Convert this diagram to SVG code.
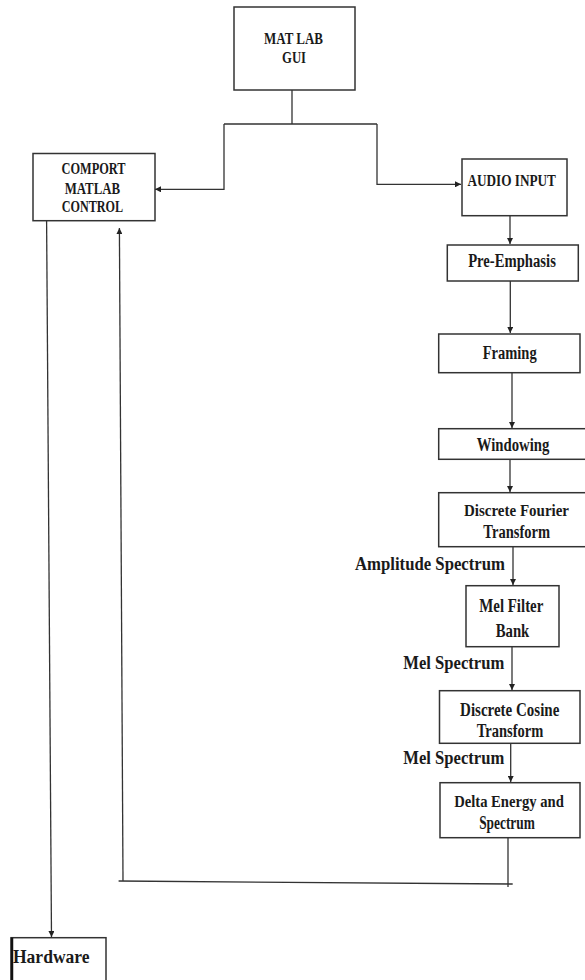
<svg xmlns="http://www.w3.org/2000/svg" width="585" height="980" viewBox="0 0 585 980">
<defs>
<marker id="ah" viewBox="0 0 10 10" refX="10" refY="5" markerWidth="6" markerHeight="6" markerUnits="userSpaceOnUse" orient="auto">
<path d="M0,0 L10,5 L0,10 z" fill="#222"/>
</marker>
</defs>
<style>
.n{fill:#fff;stroke:#333;stroke-width:1.5}
text{font-family:"Liberation Serif","Times New Roman",serif;font-weight:bold;fill:#1a1a1a}
.c{font-size:16px;text-anchor:middle}
.g{font-size:17px;text-anchor:middle}
.l{font-size:18px;text-anchor:middle}
.s{font-size:16px;text-anchor:middle}
.e{font-size:18px}
.ln{fill:none;stroke:#333;stroke-width:1.3}
.ar{fill:none;stroke:#333;stroke-width:1.3;marker-end:url(#ah)}
</style>
<rect width="585" height="980" fill="#fff"/>
<g id="connectors">
<path class="ln" d="M292,90 V124 M224,124 H377"/>
<path class="ar" d="M224,124 V189.3 H155"/>
<path class="ar" d="M377,124 V184.3 H461"/>
<path class="ar" d="M510,215.7 V244"/>
<path class="ar" d="M510.3,281 V333"/>
<path class="ar" d="M512,372.7 V428"/>
<path class="ar" d="M510,459.3 V492"/>
<path class="ar" d="M513,546.7 V585"/>
<path class="ar" d="M512,646.7 V690"/>
<path class="ar" d="M510.7,743.3 V782"/>
<path class="ln" d="M508,837.7 V887 M118.6,881 L512.7,884"/>
<path class="ar" d="M123,881 L119.4,228"/>
<path class="ar" d="M46.6,220.7 L51.5,937"/>
</g>
<g id="matlab-gui">
<rect class="n" x="234" y="7" width="121" height="83"/>
<text class="g" x="293.5" y="43.5" textLength="59" lengthAdjust="spacingAndGlyphs">MAT LAB</text>
<text class="g" x="294" y="63" textLength="24" lengthAdjust="spacingAndGlyphs">GUI</text>
</g>
<g id="comport">
<rect class="n" x="33" y="153.5" width="122" height="67.2"/>
<text class="c" x="93.5" y="173.5" textLength="64" lengthAdjust="spacingAndGlyphs">COMPORT</text>
<text class="c" x="92.4" y="193.5" textLength="55.5" lengthAdjust="spacingAndGlyphs">MATLAB</text>
<text class="c" x="92.4" y="212" textLength="61.4" lengthAdjust="spacingAndGlyphs">CONTROL</text>
</g>
<g id="audio-input">
<rect class="n" x="462" y="159" width="105" height="56.7"/>
<text class="c" x="511.7" y="186" textLength="88.5" lengthAdjust="spacingAndGlyphs">AUDIO INPUT</text>
</g>
<g id="pre-emphasis">
<rect class="n" x="447.3" y="245" width="131" height="36"/>
<text class="l" x="512" y="267" textLength="87.7" lengthAdjust="spacingAndGlyphs">Pre-Emphasis</text>
</g>
<g id="framing">
<rect class="n" x="438.7" y="334" width="141.3" height="38.7"/>
<text class="l" x="509.7" y="358.5" textLength="54" lengthAdjust="spacingAndGlyphs">Framing</text>
</g>
<g id="windowing">
<rect class="n" x="438.7" y="428.7" width="152" height="30.6"/>
<text class="l" x="513" y="451" textLength="72.7" lengthAdjust="spacingAndGlyphs">Windowing</text>
</g>
<g id="dft">
<rect class="n" x="438.7" y="492.7" width="152" height="54"/>
<text class="s" x="516.5" y="516" textLength="105" lengthAdjust="spacingAndGlyphs">Discrete Fourier</text>
<text class="l" x="516.7" y="538" textLength="66.7" lengthAdjust="spacingAndGlyphs">Transform</text>
</g>
<g id="label-amplitude">
<text class="e" x="355" y="570" textLength="150" lengthAdjust="spacingAndGlyphs">Amplitude Spectrum</text>
</g>
<g id="mel-filter">
<rect class="n" x="466" y="585.7" width="93" height="61"/>
<text class="l" x="511.3" y="612" textLength="64" lengthAdjust="spacingAndGlyphs">Mel Filter</text>
<text class="l" x="512.5" y="637" textLength="33.7" lengthAdjust="spacingAndGlyphs">Bank</text>
</g>
<g id="label-mel1">
<text class="e" x="403.3" y="668.5" textLength="101" lengthAdjust="spacingAndGlyphs">Mel Spectrum</text>
</g>
<g id="dct">
<rect class="n" x="439.5" y="690.7" width="140.5" height="52.6"/>
<text class="l" x="509.7" y="715.5" textLength="99.3" lengthAdjust="spacingAndGlyphs">Discrete Cosine</text>
<text class="l" x="510" y="737" textLength="66.7" lengthAdjust="spacingAndGlyphs">Transform</text>
</g>
<g id="label-mel2">
<text class="e" x="403.3" y="763.5" textLength="101" lengthAdjust="spacingAndGlyphs">Mel Spectrum</text>
</g>
<g id="delta">
<rect class="n" x="440" y="782.7" width="140" height="55"/>
<text class="s" x="509" y="806.5" textLength="109.7" lengthAdjust="spacingAndGlyphs">Delta Energy and</text>
<text class="l" x="507" y="828.5" textLength="55.7" lengthAdjust="spacingAndGlyphs">Spectrum</text>
</g>
<g id="hardware">
<rect class="n" x="11" y="937.7" width="95" height="50"/>
<line x1="12" y1="937.7" x2="12" y2="980" stroke="#111" stroke-width="2.5"/>
<text class="e" x="13" y="963" textLength="76.5" lengthAdjust="spacingAndGlyphs">Hardware</text>
</g>
</svg>
